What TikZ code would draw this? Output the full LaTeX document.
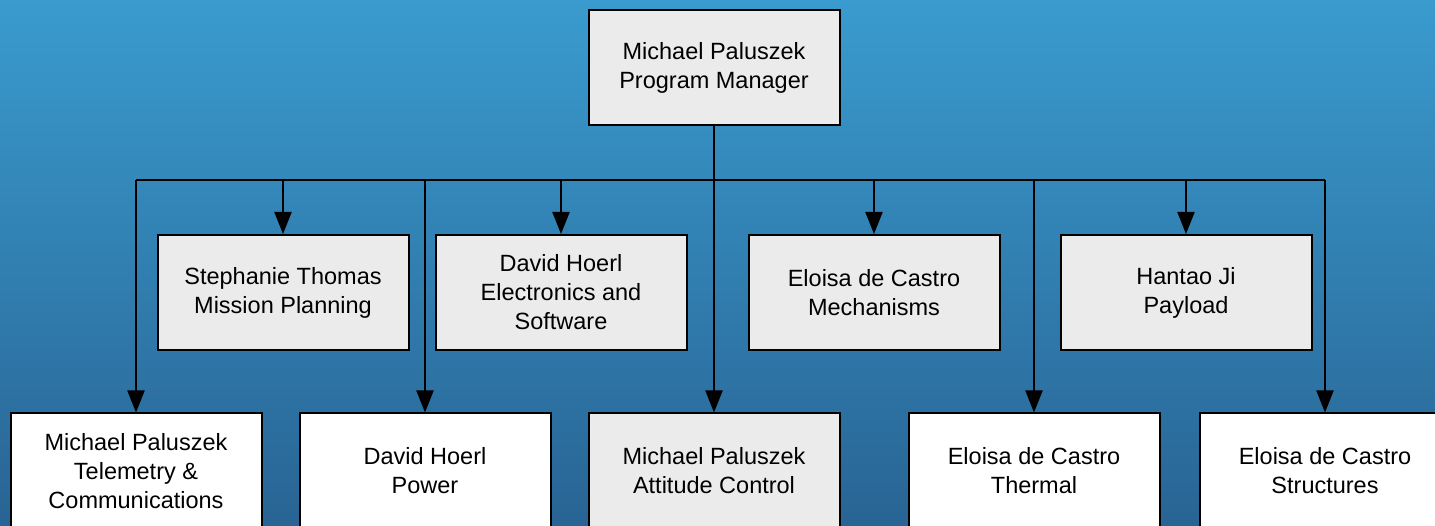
\documentclass[tikz,border=0pt]{standalone}
\usepackage{fontspec}
\setmainfont{Liberation Sans}
\usetikzlibrary{arrows.meta,positioning}
\definecolor{boxgray}{RGB}{235,235,235}
\definecolor{bgtop}{RGB}{58,155,206}
\definecolor{bgbottom}{RGB}{40,100,148}

\begin{document}
\begin{tikzpicture}
  [
    x=1pt, y=1pt,
    Gray/.style={rectangle, draw=black, fill=boxgray, line width=2pt, minimum width=251pt, minimum height=115pt, align=center, font=\fontsize{23.5}{29}\selectfont},
    White/.style={Gray, fill=white},
    Link/.style={-{Triangle[width=17pt,length=22pt]}, draw, line width=2pt}
  ]
  % Background
  \clip (0,0) rectangle (1435,-526);
  \shade[top color=bgtop, bottom color=bgbottom] (0,0) rectangle (1435,-526);
  % Nodes
  \node[Gray] (pm) at (714,-67.5) {Michael Paluszek\\Program Manager};
  \node[Gray] (mission) at (283,-292.5) {Stephanie Thomas\\Mission Planning};
  \node[Gray] (elec) at (561,-292.5) {David Hoerl\\Electronics and\\Software};
  \node[Gray] (mech) at (874,-292.5) {Eloisa de Castro\\Mechanisms};
  \node[Gray] (payload) at (1186,-292.5) {Hantao Ji\\Payload};
  \node[White] (telem) at (136,-471) {Michael Paluszek\\Telemetry \&\\Communications};
  \node[White] (power) at (425,-471) {David Hoerl\\Power};
  \node[Gray] (attitude) at (714,-471) {Michael Paluszek\\Attitude Control};
  \node[White] (thermal) at (1034,-471) {Eloisa de Castro\\Thermal};
  \node[White] (struct) at (1325,-471) {Eloisa de Castro\\Structures};
  \coordinate (bus) at (714,-180);
  % Lines
  \path [draw, line width=2pt] (pm.south) -- (bus);
  \path [draw, line width=2pt] (telem.north |- bus) -- (struct.north |- bus);
  \foreach \n in {mission, elec, mech, payload, telem, power, attitude, thermal, struct}
    \path [Link] (\n.north |- bus) -- (\n.north);
\end{tikzpicture}
\end{document}
